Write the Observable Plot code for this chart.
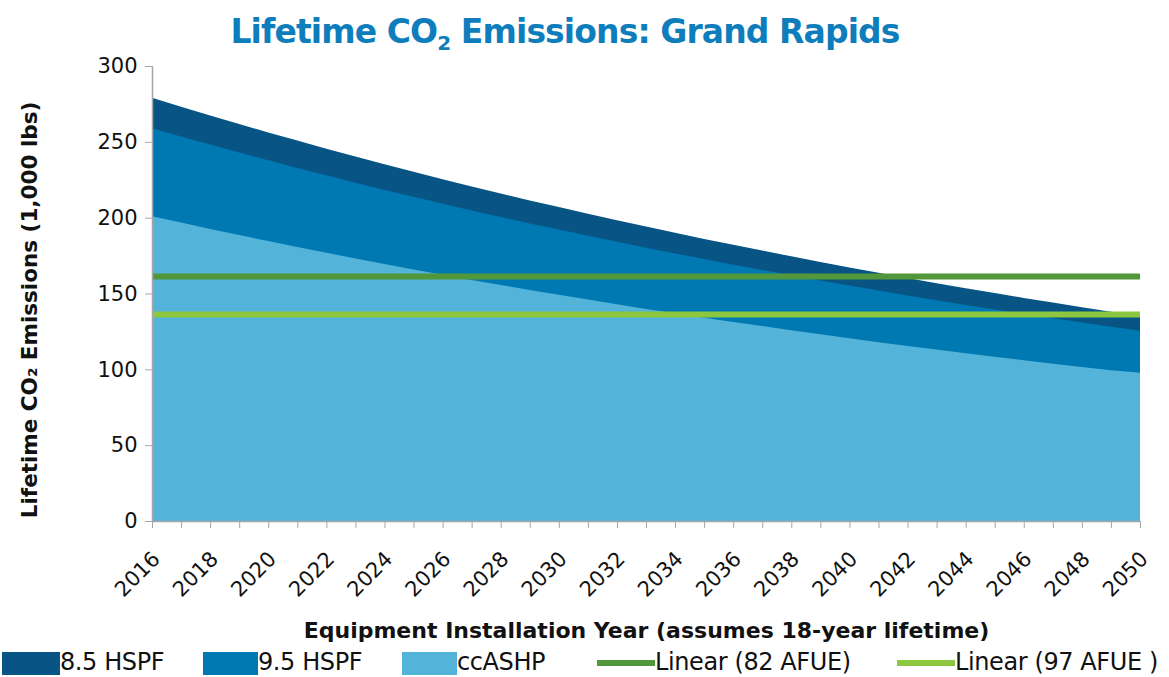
<!DOCTYPE html>
<html><head><meta charset="utf-8">
<script src="https://cdn.jsdelivr.net/npm/d3@7"></script>
<script src="https://cdn.jsdelivr.net/npm/@observablehq/plot@0.6"></script>
<style>
body{margin:0;background:#fff;width:1169px;height:677px;overflow:hidden;font-family:"DejaVu Sans",sans-serif;}
#title{position:relative;height:48px;}
#title div{position:absolute;left:0;width:1130px;top:12px;text-align:center;font:bold 33px "DejaVu Sans",sans-serif;color:#0e7dbc;letter-spacing:-0.9px;}
#title sub{font-size:20px;vertical-align:-7px;line-height:0;}
#legend{position:relative;height:32px;font:24px "DejaVu Sans",sans-serif;color:#111;}
.sw{position:absolute;top:7px;height:23px;}
.ln{position:absolute;top:15px;height:6px;}
.lt{position:absolute;top:3px;white-space:nowrap;letter-spacing:-0.4px;}
</style></head>
<body>
<div id="title"><div>Lifetime CO<sub>2</sub> Emissions: Grand Rapids</div></div>
<div id="chart"></div>
<div id="legend"></div>
<script>
const years = [2016,2017,2018,2019,2020,2021,2022,2023,2024,2025,2026,2027,2028,2029,2030,2031,2032,2033,2034,2035,2036,2037,2038,2039,2040,2041,2042,2043,2044,2045,2046,2047,2048,2049,2050];
const hspf85 = [279,273.1,267.3,261.7,256.2,250.8,245.5,240.3,235.2,230.3,225.4,220.6,216.0,211.4,207.0,202.6,198.3,194.1,190.0,186.0,182.1,178.3,174.5,170.8,167.2,163.7,160.2,156.8,153.5,150.3,147.1,144.0,141.0,138.0,135.1];
const hspf95 = [259,253.5,248.2,242.9,237.8,232.8,227.9,223.1,218.3,213.8,209.2,204.8,200.5,196.2,192.2,188.1,184.1,180.2,176.4,172.7,169.0,165.5,162.0,158.6,155.2,152.0,148.7,145.6,142.5,139.5,136.5,133.7,130.9,128.1,125.4];
const ccashp = [201,196.8,192.6,188.5,184.6,180.7,176.9,173.1,169.4,165.9,162.4,158.9,155.6,152.3,149.1,146.0,142.9,139.8,136.9,134.0,131.2,128.5,125.7,123.1,120.5,117.9,115.4,113.0,110.6,108.3,106.0,103.7,101.6,99.4,97.8];
const afue82 = 161.5;
const afue97 = 136.5;
const yTicks = [0,50,100,150,200,250,300];
const xLabelYears = [2016,2018,2020,2022,2024,2026,2028,2030,2032,2034,2036,2038,2040,2042,2044,2046,2048,2050];
const seriesNames = ["8.5 HSPF","9.5 HSPF","ccASHP","Linear (82 AFUE)","Linear (97 AFUE )"];
const colors = ["#085484","#0079b3","#53b3d9","#52973a","#8dc63f"];

const rows = (vals) => years.map((y,i)=>({year:y, v:vals[i]}));

const chart = Plot.plot({
  width: 1169, height: 597,
  marginTop: 18, marginBottom: 124, marginLeft: 152, marginRight: 29,
  style: {fontFamily: '"DejaVu Sans",sans-serif', fontSize: "20px", color: "#111", background: "#fff", overflow: "visible"},
  x: {domain: [2016, 2050], label: null},
  y: {domain: [0, 300], label: null},
  marks: [
    Plot.areaY(rows(hspf85), {x:"year", y1:0, y2:"v", fill: colors[0]}),
    Plot.areaY(rows(hspf95), {x:"year", y1:0, y2:"v", fill: colors[1]}),
    Plot.areaY(rows(ccashp), {x:"year", y1:0, y2:"v", fill: colors[2]}),
    Plot.ruleY([afue82], {stroke: colors[3], strokeWidth: 6}),
    Plot.ruleY([afue97], {stroke: colors[4], strokeWidth: 6}),
    Plot.ruleX([2016], {stroke: "#a6a6a6", strokeWidth: 1.5}),
    Plot.ruleY([0], {stroke: "#a6a6a6", strokeWidth: 1.5}),
    Plot.axisY({ticks: yTicks, tickSize: 7, tickPadding: 8, stroke: "#a6a6a6", tickFormat: d=>String(d), label: null, fontSize: 21}),
    Plot.axisX({ticks: years, tickSize: 7, stroke: "#a6a6a6", tickFormat: () => "", label: null}),
    Plot.axisX({ticks: xLabelYears, tickSize: 0, tickPadding: 34, dx: 4, tickRotate: -45, tickFormat: d=>String(d), label: null, fontSize: 21}),
    Plot.text(["Lifetime CO₂ Emissions (1,000 lbs)"], {frameAnchor: "left", textAnchor: "middle", rotate: -90, dx: -122, dy: 16, fontWeight: "bold", fontSize: 21.5, fill: "#111"}),
    Plot.text(["Equipment Installation Year (assumes 18-year lifetime)"], {frameAnchor: "bottom", textAnchor: "middle", dy: 116, fontWeight: "bold", fontSize: 22, fill: "#111"})
  ]
});
document.getElementById("chart").appendChild(chart);

const legend = document.getElementById("legend");
const items = [
  {type:"sw", x:2, w:58, tx:60},
  {type:"sw", x:203, w:55, tx:258},
  {type:"sw", x:402, w:55, tx:457},
  {type:"ln", x:597, w:58, tx:655},
  {type:"ln", x:897, w:58, tx:955}
];
items.forEach((it,i)=>{
  const s = document.createElement("div");
  s.className = it.type; s.style.left = it.x+"px"; s.style.width = it.w+"px"; s.style.background = colors[i];
  legend.appendChild(s);
  const t = document.createElement("div");
  t.className = "lt"; t.style.left = it.tx+"px"; t.textContent = seriesNames[i];
  legend.appendChild(t);
});
</script>
</body></html>
